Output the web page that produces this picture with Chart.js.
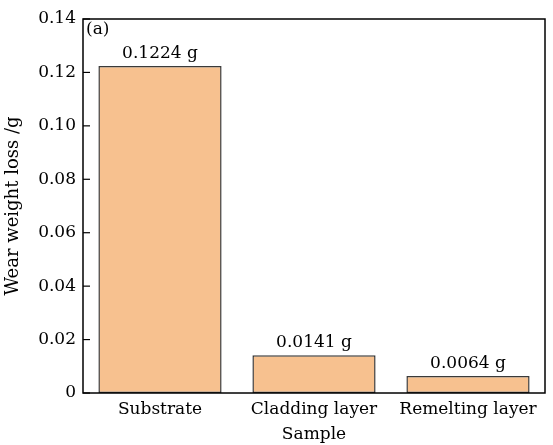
<!DOCTYPE html>
<html>
<head>
<meta charset="utf-8">
<script src="https://cdn.jsdelivr.net/npm/chart.js@4"></script>
<style>
  html, body { margin: 0; padding: 0; background: #fff; }
  #wrap { width: 553px; height: 445px; }
</style>
</head>
<body>
<div id="wrap"><canvas id="wearChart"></canvas></div>
<script>
// wear weight loss per sample
const samples = ['Substrate', 'Cladding layer', 'Remelting layer'];
const weightLoss = [0.1224, 0.0141, 0.0064];
const valueLabels = ['0.1224 g', '0.0141 g', '0.0064 g'];
const yTicks = [0, 0.02, 0.04, 0.06, 0.08, 0.10, 0.12, 0.14];

const serif = "'DejaVu Serif', serif";

// frame, inward ticks, labels over bars and the panel tag
const extras = {
  id: 'extras',
  afterDatasetsDraw(chart) {
    const ctx = chart.ctx;
    const a = chart.chartArea;
    const ys = chart.scales.y;
    ctx.save();
    ctx.strokeStyle = '#000';
    ctx.lineWidth = 1.5;
    ctx.strokeRect(a.left, a.top, a.right - a.left, a.bottom - a.top);
    ctx.lineWidth = 1.2;
    yTicks.forEach(v => {
      const py = ys.getPixelForValue(v);
      ctx.beginPath();
      ctx.moveTo(a.left, py);
      ctx.lineTo(a.left + 7, py);
      ctx.stroke();
    });
    ctx.fillStyle = '#000';
    ctx.font = '17px ' + serif;
    ctx.textAlign = 'center';
    ctx.textBaseline = 'bottom';
    chart.getDatasetMeta(0).data.forEach((bar, i) => {
      ctx.fillText(valueLabels[i], bar.x, bar.y - 4);
    });
    ctx.textAlign = 'left';
    ctx.textBaseline = 'top';
    ctx.fillText('(a)', a.left + 3, a.top + 2);
    ctx.restore();
  }
};

new Chart(document.getElementById('wearChart'), {
  type: 'bar',
  data: {
    labels: samples,
    datasets: [{
      data: weightLoss,
      backgroundColor: '#F7C18F',
      borderColor: '#3a3a3a',
      borderWidth: 1.5,
      borderSkipped: false,
      barPercentage: 0.8,
      categoryPercentage: 1.0
    }]
  },
  options: {
    responsive: true,
    maintainAspectRatio: false,
    animation: false,
    layout: { padding: { top: 19, right: 8, left: 0, bottom: 0 } },
    plugins: {
      legend: { display: false },
      tooltip: { enabled: false }
    },
    scales: {
      x: {
        grid: { display: false, drawTicks: false },
        border: { display: false },
        ticks: { color: '#000', font: { family: serif, size: 17 }, padding: 6, maxRotation: 0 },
        title: { display: true, text: 'Sample', color: '#000', font: { family: serif, size: 17 }, padding: { top: 0, bottom: 0 } },
        afterFit(scale) { scale.height = 52; }
      },
      y: {
        min: 0,
        max: 0.14,
        grid: { display: false, drawTicks: false },
        border: { display: false },
        afterBuildTicks(scale) { scale.ticks = yTicks.map(v => ({ value: v })); },
        ticks: {
          color: '#000',
          font: { family: serif, size: 17 },
          padding: 7,
          callback: v => v === 0 ? '0' : v.toFixed(2)
        },
        title: { display: true, text: 'Wear weight loss /g', color: '#000', font: { family: serif, size: 18 }, padding: { top: 3, bottom: 0 } },
        afterFit(scale) { scale.width = 83; }
      }
    }
  },
  plugins: [extras]
});
</script>
</body>
</html>
